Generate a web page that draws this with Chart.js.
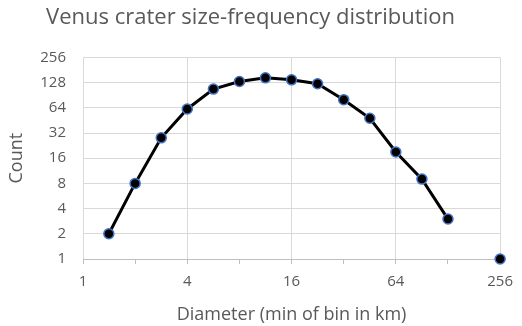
<!DOCTYPE html>
<html><head><meta charset="utf-8">
<script src="https://cdn.jsdelivr.net/npm/chart.js@4"></script>
<style>html,body{margin:0;padding:0;background:#fff;}#wrap{width:522px;height:326px;}</style>
</head><body><div id="wrap"><canvas id="c" width="522" height="326"></canvas></div>
<script>
const diameters = [1.41, 2, 2.83, 4, 5.66, 8, 11.3, 16, 22.6, 32, 45.3, 64, 90.5, 128, 181, 256];
const counts = [2, 8, 28, 62, 107, 132, 146, 138, 124, 80, 48, 19, 9, 3, null, 1];
const xTicks = [1, 2, 4, 8, 16, 32, 64, 128, 256];
const xLabels = [1, 4, 16, 64, 256];
const yTicks = [1, 2, 4, 8, 16, 32, 64, 128, 256];

const FONT = "'Open Sans', 'Noto Sans', sans-serif";
const GRAY = '#595959';
const GRID = '#d9d9d9';

new Chart(document.getElementById('c'), {
  type: 'line',
  data: {
    datasets: [{
      data: diameters.map((d, i) => ({x: d, y: counts[i]})),
      borderColor: '#000',
      borderWidth: 3,
      backgroundColor: '#000',
      pointBackgroundColor: '#000',
      pointBorderColor: '#4472C4',
      pointBorderWidth: 1.5,
      pointRadius: 5,
      tension: 0,
      spanGaps: false,
      clip: false
    }]
  },
  options: {
    responsive: false,
    animation: false,
    devicePixelRatio: 1,
    layout: {padding: {left: 0, right: 21, top: 0, bottom: 0}},
    plugins: {
      legend: {display: false},
      tooltip: {enabled: false},
      title: {
        display: true,
        text: 'Venus crater size-frequency distribution',
        color: GRAY,
        font: {family: FONT, size: 22, weight: 'normal'},
        padding: {top: 5, bottom: 26}
      }
    },
    scales: {
      x: {
        type: 'logarithmic',
        min: 1, max: 256,
        afterBuildTicks: s => { s.ticks = xTicks.map(v => ({value: v})); },
        afterFit: s => { s.height = 67; },
        ticks: {
          color: GRAY, font: {family: FONT, size: 15}, padding: 9,
          maxRotation: 0, autoSkip: false,
          callback: v => xLabels.includes(v) ? String(v) : ''
        },
        grid: {
          color: c => (c.tick && xLabels.includes(c.tick.value)) ? GRID : 'rgba(0,0,0,0)',
          tickColor: '#bfbfbf',
          tickLength: 5,
          drawTicks: true
        },
        border: {display: true, color: '#bfbfbf', width: 1},
        title: {display: true, text: 'Diameter (min of bin in km)', color: GRAY,
                font: {family: FONT, size: 18}, padding: {top: 0, bottom: 0}}
      },
      y: {
        type: 'logarithmic',
        min: 1, max: 256,
        afterBuildTicks: s => { s.ticks = yTicks.map(v => ({value: v})); },
        afterFit: s => { s.width = 83; },
        ticks: {color: GRAY, font: {family: FONT, size: 15}, padding: 17,
                callback: v => String(v)},
        grid: {color: GRID, drawTicks: false},
        border: {display: false},
        title: {display: true, text: 'Count', color: GRAY,
                font: {family: FONT, size: 18}, padding: {top: 6, bottom: 0}}
      }
    }
  }
});
</script>
</body></html>
